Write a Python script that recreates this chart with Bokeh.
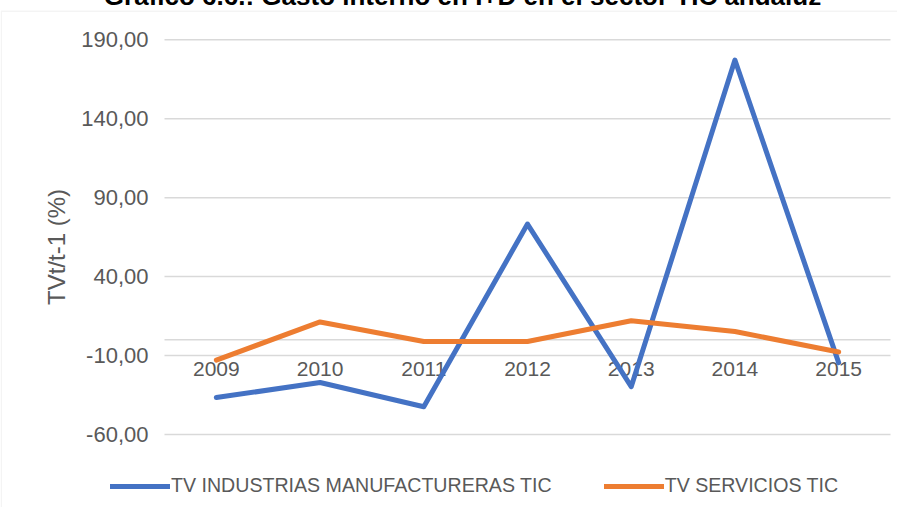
from bokeh.plotting import figure
from bokeh.models import (Range1d, FixedTicker, Legend, LegendItem, Label, PolyAnnotation)
from bokeh.embed import file_html
from bokeh.resources import INLINE

# ---- data ----
years = ["2009", "2010", "2011", "2012", "2013", "2014", "2015"]
manufactureras = [-36.6, -27.1, -42.4, 73.3, -29.7, 177.2, -14.5]
servicios = [-12.9, 11.3, -1.1, -1.1, 12.0, 5.2, -7.7]
y_ticks = [-60, -10, 40, 90, 140, 190]
y_tick_labels = ["-60,00", "-10,00", "40,00", "90,00", "140,00", "190,00"]
series_names = ["TV INDUSTRIAS MANUFACTURERAS TIC", "TV SERVICIOS TIC"]
title_text = "Gráfico 6.6.: Gasto interno en I+D en el sector TIC andaluz"
y_title = "TVt/t-1 (%)"

FONT = "Liberation Sans"
GREY_TXT = "#595959"
GRID = "#d9d9d9"

# ---- layout (page pixels) ----
W, H = 897, 521
TOP = -14                      # canvas top on page (negative margin)
LEFT = 8
PLOT_L, PLOT_R = 172.0, 898.0  # category area
PLOT_T, PLOT_B = 39.3, 434.0   # value area (190 .. -60)
n = len(years)
xs = [i + 0.5 for i in range(n)]
ppx = (PLOT_R - PLOT_L) / n
ppy = (PLOT_B - PLOT_T) / (y_ticks[-1] - y_ticks[0])


def X(px):
    return (px - PLOT_L) / ppx


def Y(py):
    return y_ticks[-1] + (PLOT_T - py) / ppy


p = figure(x_range=Range1d(X(LEFT), X(LEFT + W)), y_range=Range1d(Y(TOP + H), Y(TOP)),
           width=W, height=H, output_backend="svg", toolbar_location=None,
           min_border=0, margin=(TOP, 0, 0, 0))
p.outline_line_color = None
p.background_fill_color = "white"
p.border_fill_color = "white"
p.xgrid.visible = False
p.ygrid.visible = False

# gridlines over the category area, and the zero line
p.segment(x0=0, x1=n, y0=y_ticks, y1=y_ticks, line_color=GRID, line_width=1.5)
p.segment(x0=[0], x1=[n], y0=[0], y1=[0], line_color=GRID, line_width=1.5)

# y axis (placed at the left edge of the category area)
p.yaxis.fixed_location = 0
p.yaxis.ticker = FixedTicker(ticks=y_ticks)
p.yaxis.major_label_overrides = dict(zip(y_ticks, y_tick_labels))
p.yaxis.axis_line_color = None
p.yaxis.major_tick_out = 0
p.yaxis.major_tick_in = 0
p.yaxis.minor_tick_out = 0
p.yaxis.minor_tick_in = 0
p.yaxis.major_label_standoff = 16
p.yaxis.major_label_text_font = FONT
p.yaxis.major_label_text_font_size = "22px"
p.yaxis.major_label_text_color = GREY_TXT
p.yaxis.axis_label = y_title
p.yaxis.axis_label_text_font = FONT
p.yaxis.axis_label_text_font_size = "24px"
p.yaxis.axis_label_text_font_style = "normal"
p.yaxis.axis_label_text_color = GREY_TXT
p.yaxis.axis_label_standoff = 8

# x axis crossing at zero
p.xaxis.fixed_location = 0
p.xaxis.level = "underlay"
p.xaxis.ticker = FixedTicker(ticks=xs)
p.xaxis.major_label_overrides = dict(zip(xs, years))
p.xaxis.axis_line_color = None
p.xaxis.major_tick_out = 0
p.xaxis.major_tick_in = 0
p.xaxis.minor_tick_out = 0
p.xaxis.minor_tick_in = 0
p.xaxis.major_label_standoff = 22
p.xaxis.major_label_text_font = FONT
p.xaxis.major_label_text_font_size = "21px"
p.xaxis.major_label_text_color = GREY_TXT

# lines
r1 = p.line(xs, manufactureras, line_color="#4472C4", line_width=5,
            line_cap="round", line_join="round")
r2 = p.line(xs, servicios, line_color="#ED7D31", line_width=5,
            line_cap="round", line_join="round")

legend = Legend(items=[LegendItem(label=series_names[0], renderers=[r1]),
                       LegendItem(label=series_names[1], renderers=[r2])],
                orientation="horizontal", location=(118 - LEFT, (TOP + H) - 497),
                padding=0, margin=0, spacing=52, label_standoff=1,
                glyph_width=60, glyph_height=20, label_height=20,
                label_text_font=FONT, label_text_font_size="19.6px",
                label_text_color=GREY_TXT, border_line_color=None,
                background_fill_alpha=0)
p.add_layout(legend, "center")

# chart border (left and top visible)
p.add_layout(PolyAnnotation(xs=[X(8.8), X(1000), X(1000), X(8.8)],
                            ys=[Y(10.7), Y(10.7), Y(700), Y(700)],
                            fill_color=None, fill_alpha=0,
                            line_color=GRID, line_width=1.5))

# title (partly cut off at the top as in the reference)
p.add_layout(Label(x=X(470), y=Y(-5), text=title_text, text_align="center",
                   text_baseline="alphabetic", text_font=FONT, text_font_style="bold",
                   text_font_size="26px", text_color="black"))

open("out.html", "w").write(file_html(p, INLINE))
